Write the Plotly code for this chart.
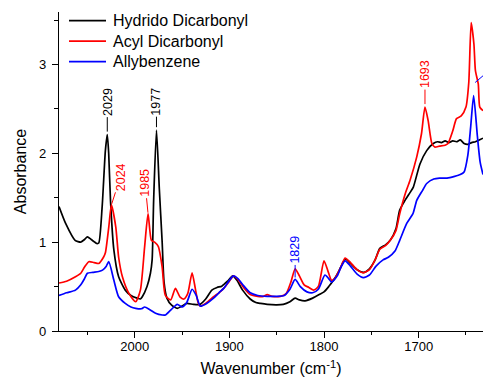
import numpy as np
import plotly.graph_objects as go

# ---------------- data ----------------
series_names = ["Hydrido Dicarbonyl", "Acyl Dicarbonyl", "Allybenzene"]
series_colors = ["#000000", "#ff0000", "#0000ff"]

hydrido_wn = [2080, 2073, 2063, 2057, 2053, 2050, 2046, 2040, 2038, 2034.4, 2031, 2029, 2027.5, 2025.6,
              2022, 2017, 2010, 2004, 1997.5, 1994, 1992, 1987, 1983.4, 1981.6, 1980, 1977, 1974, 1971,
              1969, 1966, 1961, 1955, 1950, 1945, 1938, 1931, 1925, 1918.5, 1913, 1908, 1902, 1896.5,
              1892, 1886, 1878, 1872, 1867, 1860, 1850, 1843, 1836, 1830.5, 1826, 1820, 1812, 1805,
              1800, 1795, 1790, 1785, 1780, 1777.5, 1772, 1765, 1758, 1752, 1746, 1741, 1735, 1730,
              1724, 1720, 1714.4, 1709, 1705.6, 1698.6, 1691.5, 1684.5, 1680, 1676, 1672, 1668, 1664,
              1660, 1656, 1652, 1648, 1644, 1640, 1636, 1632]
hydrido_abs = [1.40, 1.21, 1.02, 1.00, 1.03, 1.06, 1.03, 0.985, 0.99, 1.40, 2.03, 2.21, 2.00, 1.47,
               0.91, 0.61, 0.46, 0.40, 0.37, 0.36, 0.385, 0.50, 0.65, 0.80, 1.47, 2.26, 1.60, 1.00,
               0.55, 0.37, 0.29, 0.255, 0.28, 0.31, 0.30, 0.30, 0.36, 0.46, 0.49, 0.505, 0.56, 0.62,
               0.57, 0.46, 0.36, 0.32, 0.31, 0.30, 0.295, 0.30, 0.33, 0.37, 0.35, 0.34, 0.37, 0.41,
               0.44, 0.50, 0.57, 0.66, 0.77, 0.81, 0.76, 0.69, 0.66, 0.70, 0.80, 0.93, 0.97, 1.02,
               1.15, 1.36, 1.47, 1.56, 1.62, 1.88, 2.03, 2.11, 2.13, 2.12, 2.14, 2.12, 2.14,
               2.13, 2.15, 2.11, 2.10, 2.12, 2.13, 2.15, 2.17]

acyl_wn = [2080, 2072, 2062.6, 2057, 2053, 2048.5, 2043, 2038, 2033, 2031, 2027.4, 2024.6, 2020,
           2017, 2013, 2006, 1999, 1994, 1989.5, 1985.9, 1982.4, 1979, 1975, 1971, 1967.6, 1962,
           1957, 1952, 1948, 1944, 1939.4, 1936, 1933, 1930.7, 1924, 1916.7, 1911, 1906, 1900,
           1895.6, 1891, 1885, 1878, 1870, 1864, 1860, 1855, 1846, 1840, 1835, 1830.5, 1826, 1821,
           1816, 1811, 1806, 1800, 1796, 1792, 1788, 1783, 1777.7, 1772, 1765, 1758.4, 1752, 1746,
           1741, 1735, 1730, 1724, 1720, 1714, 1709, 1702, 1697, 1693.3, 1690, 1686, 1683, 1678,
           1672, 1669, 1664, 1660, 1655, 1650, 1647, 1644.5, 1641.6, 1640, 1637, 1635.4, 1632]
acyl_abs = [0.54, 0.56, 0.61, 0.65, 0.72, 0.78, 0.77, 0.76, 0.83, 0.88, 1.17, 1.42, 1.17,
            0.83, 0.61, 0.42, 0.33, 0.46, 0.95, 1.32, 1.02, 1.00, 0.95, 0.72, 0.40, 0.35,
            0.48, 0.38, 0.36, 0.42, 0.655, 0.48, 0.32, 0.28, 0.32, 0.385, 0.43, 0.48, 0.56,
            0.62, 0.58, 0.49, 0.41, 0.39, 0.39, 0.41, 0.39, 0.39, 0.42, 0.55, 0.70, 0.62, 0.52,
            0.49, 0.46, 0.50, 0.79, 0.68, 0.57, 0.60, 0.70, 0.82, 0.77, 0.69, 0.655, 0.69, 0.80,
            0.92, 0.96, 1.02, 1.13, 1.32, 1.55, 1.70, 1.96, 2.22, 2.52, 2.37, 2.11, 2.07, 2.08,
            2.09, 2.11, 2.25, 2.39, 2.42, 2.52, 2.80, 3.47, 3.23, 2.93, 2.78, 2.52, 2.48]

allyl_wn = [2080, 2072, 2062.6, 2057, 2053, 2050, 2044, 2038, 2034, 2030, 2027.4, 2022, 2017, 2010,
            2004, 1999, 1993, 1989.5, 1984, 1978, 1971, 1967.6, 1962, 1955, 1950, 1945, 1939.4,
            1935, 1930.7, 1924, 1916.7, 1911, 1906, 1900, 1895.6, 1891, 1885, 1878, 1870, 1860,
            1850, 1842, 1836, 1830.5, 1825, 1818, 1812, 1806, 1799, 1795, 1792, 1786, 1782,
            1777.7, 1772, 1765, 1758.4, 1752, 1745, 1737.6, 1732, 1725, 1720, 1712.6, 1706,
            1702, 1696, 1691.5, 1684, 1678, 1670, 1662, 1656, 1652, 1648, 1645, 1641.9, 1638,
            1635, 1632]
allyl_abs = [0.40, 0.43, 0.46, 0.52, 0.59, 0.65, 0.66, 0.67, 0.685, 0.73, 0.78, 0.57, 0.385, 0.31,
             0.27, 0.255, 0.25, 0.27, 0.24, 0.20, 0.18, 0.18, 0.235, 0.30, 0.27, 0.32, 0.47,
             0.40, 0.28, 0.31, 0.37, 0.43, 0.48, 0.57, 0.62, 0.59, 0.51, 0.43, 0.40, 0.39,
             0.39, 0.40, 0.47, 0.58, 0.50, 0.44, 0.43, 0.47, 0.63, 0.59, 0.55, 0.62, 0.72,
             0.79, 0.73, 0.64, 0.60, 0.63, 0.73, 0.80, 0.83, 0.90, 1.02, 1.21, 1.32,
             1.47, 1.58, 1.66, 1.71, 1.72, 1.72, 1.74, 1.76, 1.79, 1.98, 2.30, 2.65, 2.20,
             1.90, 1.76]

# peak labels: (series index, wavenumber, label)
label_series = [0, 0, 1, 1, 2, 1]
label_wn = [2029, 1977, 2024.6, 1985.9, 1830.5, 1693.3]
label_text = ["2029", "1977", "2024", "1985", "1829", "1693"]
# label of the allybenzene peak cut by the right edge of the picture
edge_label_series = 2
edge_label_wn = 1641.9
edge_label_text = "1641"

x_ticks = [2000, 1900, 1800, 1700]
y_ticks = [0, 1, 2, 3]

# ---------------- figure ----------------
all_wn = [hydrido_wn, acyl_wn, allyl_wn]
all_abs = [hydrido_abs, acyl_abs, allyl_abs]

FONT = "Liberation Sans, Arial, Helvetica, sans-serif"
W, H = 483, 383
ML, MR, MT, MB = 59, 0, 12, 52
X_RANGE = [2080, 1632]
Y_RANGE = [0, 3.59]
pw = W - ML - MR
ph = H - MT - MB


def px2paper(px, py):
    return (px - ML) / pw, (H - MB - py) / ph


def peak_y(si, wn):
    wn_arr = np.array(all_wn[si][::-1], dtype=float)
    ab_arr = np.array(all_abs[si][::-1], dtype=float)
    return float(np.interp(wn, wn_arr, ab_arr))


fig = go.Figure()
for name, color, wn, ab in zip(series_names, series_colors, all_wn, all_abs):
    fig.add_trace(go.Scatter(x=wn, y=ab, mode="lines", name=name,
                             line=dict(color=color, width=1.7, shape="spline", smoothing=0.6),
                             showlegend=False))

# label offsets in pixels (dx, dy from the peak to the text centre)
offsets = [(0, -33), (0, -29), (9, -28), (-3, -31), (0, -30), (0, -33)]
standoffs = [3, 3, 1, 1, 2, 3]
for si, wn, txt, (dx, dy), so in zip(label_series, label_wn, label_text, offsets, standoffs):
    fig.add_annotation(x=wn, y=peak_y(si, wn), xref="x", yref="y", text=txt, textangle=-90,
                       showarrow=True, arrowhead=0, arrowwidth=1, arrowcolor=series_colors[si],
                       ax=dx, ay=dy, standoff=so, borderpad=1,
                       font=dict(family=FONT, size=12.5, color=series_colors[si]))

# edge label: leader line + text placed in paper units (mostly beyond the right edge)
ec = series_colors[edge_label_series]
ey = peak_y(edge_label_series, edge_label_wn)
fx = (X_RANGE[0] - edge_label_wn) / (X_RANGE[0] - X_RANGE[1])
fy = (ey - Y_RANGE[0]) / (Y_RANGE[1] - Y_RANGE[0])
pk_px = ML + fx * pw
pk_py = MT + (1 - fy) * ph
lx0, ly0 = px2paper(pk_px + 1.5, pk_py - 13)
lx1, ly1 = px2paper(pk_px + 12, pk_py - 22)
fig.add_shape(type="line", xref="paper", yref="paper", x0=lx0, y0=ly0, x1=lx1, y1=ly1,
              line=dict(color=ec, width=1))
tx, ty = px2paper(pk_px + 15, pk_py - 33)
fig.add_annotation(xref="paper", yref="paper", x=tx, y=ty, text=edge_label_text, textangle=-90,
                   showarrow=False, xanchor="center", yanchor="middle",
                   font=dict(family=FONT, size=12.5, color=ec))

# manual legend
for i, (name, color) in enumerate(zip(series_names, series_colors)):
    py = 20.7 + i * 20.5
    x0, y0 = px2paper(69, py)
    x1, _ = px2paper(106, py)
    xt, _ = px2paper(111, py)
    fig.add_shape(type="line", xref="paper", yref="paper", x0=x0, x1=x1, y0=y0, y1=y0,
                  line=dict(color=color, width=1.7))
    fig.add_annotation(xref="paper", yref="paper", x=xt, y=y0, text=name, showarrow=False,
                       xanchor="left", yanchor="middle",
                       font=dict(family=FONT, size=16, color="#000000"))

axis_common = dict(showline=True, linecolor="#000000", linewidth=1.3, mirror=False,
                   showgrid=False, zeroline=False, ticks="outside", ticklen=6, tickwidth=1.3,
                   tickcolor="#000000", tickfont=dict(family=FONT, size=13, color="#000000"))

fig.update_layout(
    width=W, height=H,
    margin=dict(l=ML, r=MR, t=MT, b=MB),
    paper_bgcolor="white", plot_bgcolor="white",
    font=dict(family=FONT, color="#000000"),
    xaxis=dict(range=X_RANGE, tickvals=x_ticks,
               minor=dict(dtick=50, tick0=2000, ticks="outside", ticklen=3, tickwidth=1.3,
                          tickcolor="#000000", showgrid=False),
               title=dict(text="Wavenumber (cm<sup>-1</sup>)", font=dict(family=FONT, size=16),
                          standoff=10),
               ticklabelstandoff=-3,
               **axis_common),
    yaxis=dict(range=Y_RANGE, tickvals=y_ticks,
               minor=dict(dtick=0.5, tick0=0, ticks="outside", ticklen=3.5, tickwidth=1.3,
                          tickcolor="#000000", showgrid=False),
               title=dict(text="Absorbance", font=dict(family=FONT, size=16), standoff=8),
               ticklabelstandoff=3,
               **axis_common),
)

fig.write_html("out.html")
